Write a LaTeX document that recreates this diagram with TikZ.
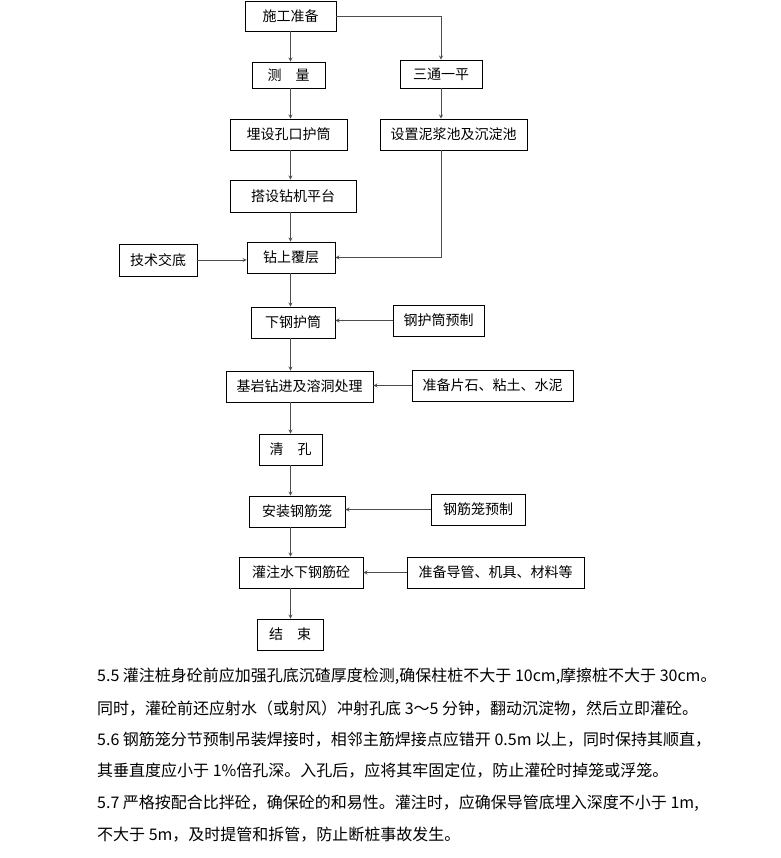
\documentclass[tikz,border=0pt]{standalone}
\usepackage{fontspec}
\setmainfont{Noto Sans CJK SC}

\begin{document}
\begin{tikzpicture}[x=1pt, y=-1pt, >=stealth,
    box/.style={draw, line width=0.8pt, inner sep=0pt, minimum height=31pt,
      font=\fontsize{14}{16}\selectfont},
    link/.style={->, line width=0.8pt, black!70},
    para/.style={anchor=west, inner sep=0pt, font=\fontsize{16}{18}\selectfont}]
  \useasboundingbox (0,0) rectangle (780,858);
  \coordinate (spine) at (290.5,0);

  % --- main column ---
  \node[box, minimum width=91pt, minimum height=30pt] (prep) at (290.5,16) {施工准备};
  \node[box, minimum width=73pt, minimum height=26pt] (survey) at (288.5,75) {测　量};
  \node[box, minimum width=117pt] (casing) at (288.5,134.5) {埋设孔口护筒};
  \node[box, minimum width=126pt, minimum height=32pt] (platform) at (293,196) {搭设钻机平台};
  \node[box, minimum width=88pt] (cover) at (291,257.5) {钻上覆层};
  \node[box, minimum width=84pt] (sink) at (293,322.5) {下钢护筒};
  \node[box, minimum width=147pt] (rock) at (299.5,386.5) {基岩钻进及溶洞处理};
  \node[box, minimum width=63pt] (clean) at (290.5,449.5) {清　孔};
  \node[box, minimum width=96pt] (cage) at (297,511.5) {安装钢筋笼};
  \node[box, minimum width=124pt] (pour) at (301,572.5) {灌注水下钢筋砼};
  \node[box, minimum width=66pt] (finish) at (290,634.5) {结　束};

  % --- right branch ---
  \node[box, minimum width=82pt, minimum height=28pt] (site) at (441,74) {三通一平};
  \node[box, minimum width=147pt] (pool) at (453.5,134.5) {设置泥浆池及沉淀池};

  % --- side inputs ---
  \node[box, minimum width=78pt, minimum height=32pt] (brief) at (158,260) {技术交底};
  \node[box, minimum width=91pt] (shell) at (438.5,320.5) {钢护筒预制};
  \node[box, minimum width=161pt] (stone) at (492.5,385.5) {准备片石、粘土、水泥};
  \node[box, minimum width=94pt] (frame) at (478,509.5) {钢筋笼预制};
  \node[box, minimum width=177pt] (tools) at (495.5,572.5) {准备导管、机具、材料等};

  % main flow
  \draw[link] (prep.south -| spine) -- (survey.north -| spine);
  \draw[link] (survey.south -| spine) -- (casing.north -| spine);
  \draw[link] (casing.south -| spine) -- (platform.north -| spine);
  \draw[link] (platform.south -| spine) -- (cover.north -| spine);
  \draw[link] (cover.south -| spine) -- (sink.north -| spine);
  \draw[link] (sink.south -| spine) -- (rock.north -| spine);
  \draw[link] (rock.south -| spine) -- (clean.north -| spine);
  \draw[link] (clean.south -| spine) -- (cage.north -| spine);
  \draw[link] (cage.south -| spine) -- (pour.north -| spine);
  \draw[link] (pour.south -| spine) -- (finish.north -| spine);

  % right branch
  \draw[link] (prep.east) -| (site.north);
  \draw[link] (site.south) -- (pool.north -| site.south);
  \draw[link] (pool.south -| site.south) |- (cover.east);

  % side inputs
  \draw[link] (brief.east) -- (brief.east -| cover.west);
  \draw[link] (shell.west) -- (shell.west -| sink.east);
  \draw[link] (stone.west) -- (stone.west -| rock.east);
  \draw[link] (frame.west) -- (frame.west -| cage.east);
  \draw[link] (tools.west) -- (tools.west -| pour.east);

  % --- notes below the chart ---
  \node[para] (note1) at (97,676) {5.5 灌注桩身砼前应加强孔底沉碴厚度检测,确保柱桩不大于 10cm,摩擦桩不大于 30cm。};
  \node[para] (note2) at (97,708) {同时，灌砼前还应射水（或射风）冲射孔底 3～5 分钟，翻动沉淀物，然后立即灌砼。};
  \node[para] (note3) at (97,740) {5.6 钢筋笼分节预制吊装焊接时，相邻主筋焊接点应错开 0.5m 以上，同时保持其顺直，};
  \node[para] (note4) at (97,771) {其垂直度应小于 1\%倍孔深。入孔后，应将其牢固定位，防止灌砼时掉笼或浮笼。};
  \node[para] (note5) at (97,803) {5.7 严格按配合比拌砼，确保砼的和易性。灌注时，应确保导管底埋入深度不小于 1m,};
  \node[para] (note6) at (97,835) {不大于 5m，及时提管和拆管，防止断桩事故发生。};
\end{tikzpicture}
\end{document}
